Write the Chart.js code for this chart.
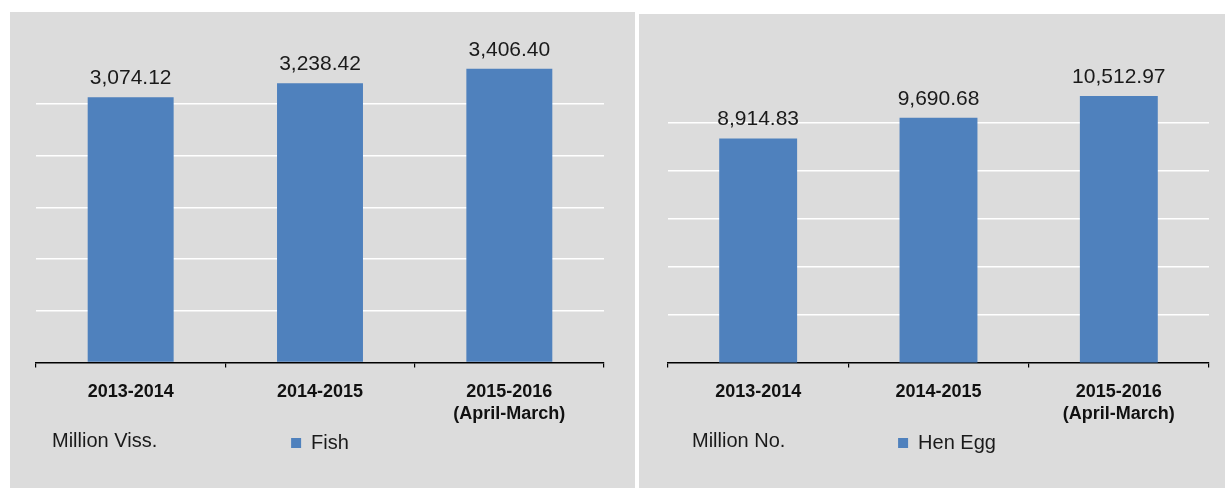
<!DOCTYPE html>
<html>
<head>
<meta charset="utf-8">
<script src="https://cdn.jsdelivr.net/npm/chart.js@4.4.1/dist/chart.umd.min.js"></script>
<style>
  html, body { margin: 0; padding: 0; background: #ffffff; width: 1225px; height: 488px; overflow: hidden; position: relative; }
  .panel { position: absolute; background: #dcdcdc; }
  #p1 { left: 10px; top: 12px; width: 625px; height: 476px; }
  #p2 { left: 639px; top: 14px; width: 586px; height: 474px; }
  .wrap { position: absolute; }
  #w1 { left: 10px; top: 12px; width: 625px; height: 476px; }
  #w2 { left: 639px; top: 12px; width: 600px; height: 476px; }
</style>
</head>
<body>
<div class="panel" id="p1"></div>
<div class="panel" id="p2"></div>
<div class="wrap" id="w1"><canvas id="c1" width="625" height="476"></canvas></div>
<div class="wrap" id="w2"><canvas id="c2" width="600" height="476"></canvas></div>
<script>
// ---- data ----
const categories = [["2013-2014"], ["2014-2015"], ["2015-2016", "(April-March)"]];
const fishValues = [3074.12, 3238.42, 3406.40];
const eggValues = [8914.83, 9690.68, 10512.97];
const fishLabel = "Fish";
const eggLabel = "Hen Egg";
const fishUnit = "Million Viss.";
const eggUnit = "Million No.";
// value-axis gridline values
const fishTicks = [0, 600, 1200, 1800, 2400, 3000, 3600];
const eggTicks = [500, 2300, 4100, 5900, 7700, 9500, 11300];

const FONT = "'Liberation Sans', Arial, sans-serif";
const BAR = "#4f81bd";

const valueLabels = {
  id: 'valueLabels',
  afterDatasetsDraw(chart) {
    const ctx = chart.ctx;
    const meta = chart.getDatasetMeta(0);
    const data = chart.data.datasets[0].data;
    ctx.save();
    ctx.font = "21px " + FONT;
    ctx.fillStyle = "#1a1a1a";
    ctx.textAlign = "center";
    ctx.textBaseline = "alphabetic";
    meta.data.forEach((bar, i) => {
      const txt = data[i].toLocaleString('en-US', {minimumFractionDigits: 2, maximumFractionDigits: 2});
      ctx.fillText(txt, bar.x, bar.y - 13);
    });
    ctx.restore();
  }
};

const unitLabel = {
  id: 'unitLabel',
  afterDraw(chart, args, opts) {
    const ctx = chart.ctx;
    ctx.save();
    ctx.font = "20px " + FONT;
    ctx.fillStyle = "#1a1a1a";
    ctx.textAlign = "left";
    ctx.textBaseline = "middle";
    ctx.fillText(opts.text, chart.chartArea.left + opts.dx, opts.y);
    ctx.restore();
  }
};

function makeChart(id, label, values, ticks, unit, o) {
  const tmin = ticks[0], tmax = ticks[ticks.length - 1];
  return new Chart(document.getElementById(id), {
    type: 'bar',
    data: {
      labels: categories,
      datasets: [{
        label: label,
        data: values,
        backgroundColor: BAR,
        borderWidth: 0,
        barPercentage: o.barPct,
        categoryPercentage: 1
      }]
    },
    options: {
      responsive: false,
      animation: false,
      events: [],
      layout: { padding: { left: o.pl, right: o.pr, top: o.pt, bottom: 25 } },
      plugins: {
        tooltip: { enabled: false },
        legend: {
          display: true,
          position: 'bottom',
          labels: {
            boxWidth: 10, boxHeight: 10, padding: 10,
            color: '#1a1a1a',
            font: { family: FONT, size: 20 }
          }
        },
        unitLabel: { text: unit, dx: o.unitDx, y: 429 }
      },
      scales: {
        x: {
          offset: true,
          border: { display: true, color: '#000000', width: 1.5 },
          grid: { offset: true, drawOnChartArea: false, drawTicks: true, tickLength: 5, color: '#000000', lineWidth: 1.2 },
          ticks: { color: '#111111', padding: 13, font: { family: FONT, size: 18, weight: 'bold', lineHeight: 1.25 }, maxRotation: 0, autoSkip: false },
          afterFit(scale) { scale.height = 60.5; }
        },
        y: {
          position: o.yPos,
          min: tmin, max: tmax,
          border: { display: false },
          afterBuildTicks(scale) { scale.ticks = ticks.map(v => ({ value: v })); },
          afterFit(scale) { scale.width = o.yW; },
          ticks: { display: false },
          grid: {
            drawTicks: false,
            lineWidth: 1.5,
            color: (c) => (c.tick && c.tick.value > tmin && c.tick.value < tmax) ? '#ffffff' : 'rgba(0,0,0,0)'
          }
        }
      }
    },
    plugins: [valueLabels, unitLabel]
  });
}

makeChart('c1', fishLabel, fishValues, fishTicks, fishUnit, { pl: 26, pr: 31, pt: 40, yPos: 'left', yW: 0, barPct: 0.454, unitDx: 16 });
makeChart('c2', eggLabel, eggValues, eggTicks, eggUnit, { pl: 29, pr: 13, pt: 63, yPos: 'right', yW: 17, barPct: 0.432, unitDx: 24 });
</script>
</body>
</html>
